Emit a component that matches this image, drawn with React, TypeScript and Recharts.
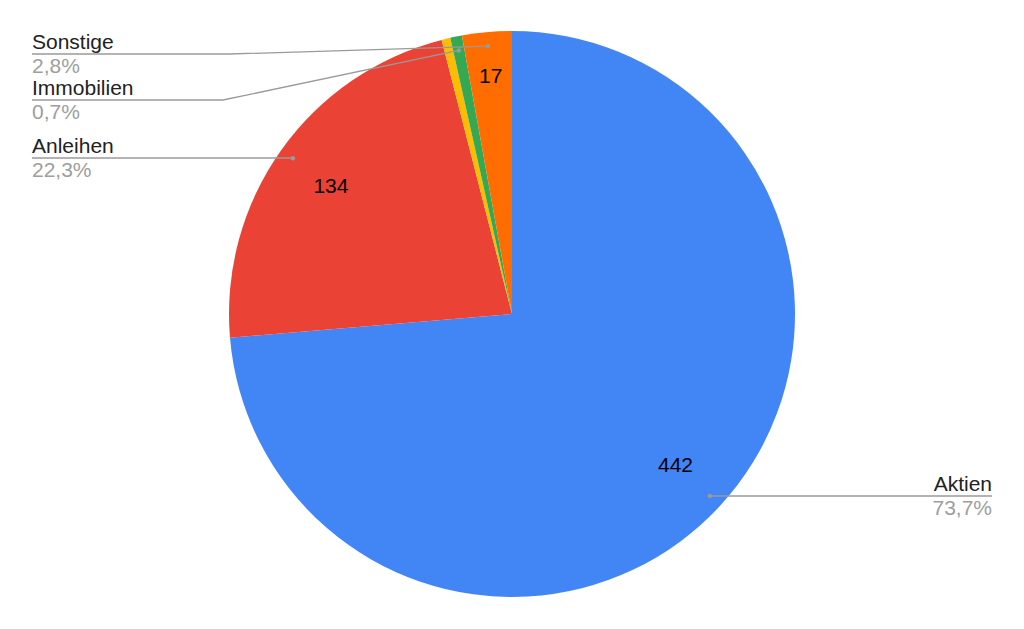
import React from "react";
import { PieChart, Pie, Cell } from "recharts";

// Asset allocation, slices clockwise from 12 o'clock
const categories = ["Aktien", "Anleihen", "Rohstoffe", "Immobilien", "Sonstige"];
const values = [442, 134, 3, 4, 17];
const colors = ["#4285F4", "#EA4335", "#FBBC04", "#34A853", "#FF6D01"];

const data = categories.map((name, i) => ({ name, value: values[i] }));

// outer callout layout per slice (null = no callout)
const callouts: ({ lineY: number; side: "left" | "right"; elbowX?: number } | null)[] = [
  { lineY: 496, side: "right" },
  { lineY: 158, side: "left" },
  null,
  { lineY: 100, side: "left", elbowX: 223 },
  { lineY: 54, side: "left", elbowX: 230 },
];

const RAD = Math.PI / 180;
const FONT = "'Liberation Sans', Arial, sans-serif";
const polar = (cx: number, cy: number, r: number, a: number) => ({
  x: cx + r * Math.cos(-a * RAD),
  y: cy + r * Math.sin(-a * RAD),
});

const renderLabel = (props: any) => {
  const { cx, cy, midAngle, outerRadius, percent, index, value, name } = props;
  const parts: React.ReactNode[] = [];

  if (percent > 0.02) {
    const p = polar(cx, cy, outerRadius * (percent < 0.05 ? 0.845 : 0.785), midAngle);
    parts.push(
      <text key="v" x={p.x} y={p.y + 7.5} textAnchor="middle" fill="#000" fontSize={21} fontFamily={FONT}>
        {value}
      </text>
    );
  }

  const c = callouts[index];
  if (c) {
    const dot = polar(cx, cy, outerRadius * 0.95, midAngle);
    const endX = c.side === "left" ? 32 : 992;
    const pts =
      c.elbowX !== undefined
        ? `${dot.x},${dot.y} ${c.elbowX},${c.lineY} ${endX},${c.lineY}`
        : `${dot.x},${c.lineY} ${endX},${c.lineY}`;
    const pct = (percent * 100).toFixed(1).replace(".", ",") + "%";
    const anchor = c.side === "left" ? "start" : "end";
    parts.push(
      <g key="c">
        <polyline points={pts} fill="none" stroke="#9a9a9a" strokeWidth={1.3} />
        <circle cx={dot.x} cy={dot.y} r={2.2} fill="#9a9a9a" />
        <text x={endX} y={c.lineY - 5} textAnchor={anchor} fill="#222" fontSize={21} fontFamily={FONT}>
          {name}
        </text>
        <text x={endX} y={c.lineY + 19} textAnchor={anchor} fill="#9e9e9e" fontSize={21} fontFamily={FONT}>
          {pct}
        </text>
      </g>
    );
  }
  return <g>{parts}</g>;
};

export default function App() {
  return (
    <div style={{ position: "absolute", left: 0, top: 0, width: 1024, height: 629, background: "#fff" }}>
      <PieChart width={1024} height={629} margin={{ top: 0, right: 0, bottom: 0, left: 0 }}>
        <Pie
          data={data}
          dataKey="value"
          nameKey="name"
          cx={512}
          cy={314}
          outerRadius={283}
          startAngle={90}
          endAngle={-270}
          stroke="none"
          label={renderLabel}
          labelLine={false}
          isAnimationActive={false}
        >
          {data.map((d, i) => (
            <Cell key={d.name} fill={colors[i]} />
          ))}
        </Pie>
      </PieChart>
    </div>
  );
}
